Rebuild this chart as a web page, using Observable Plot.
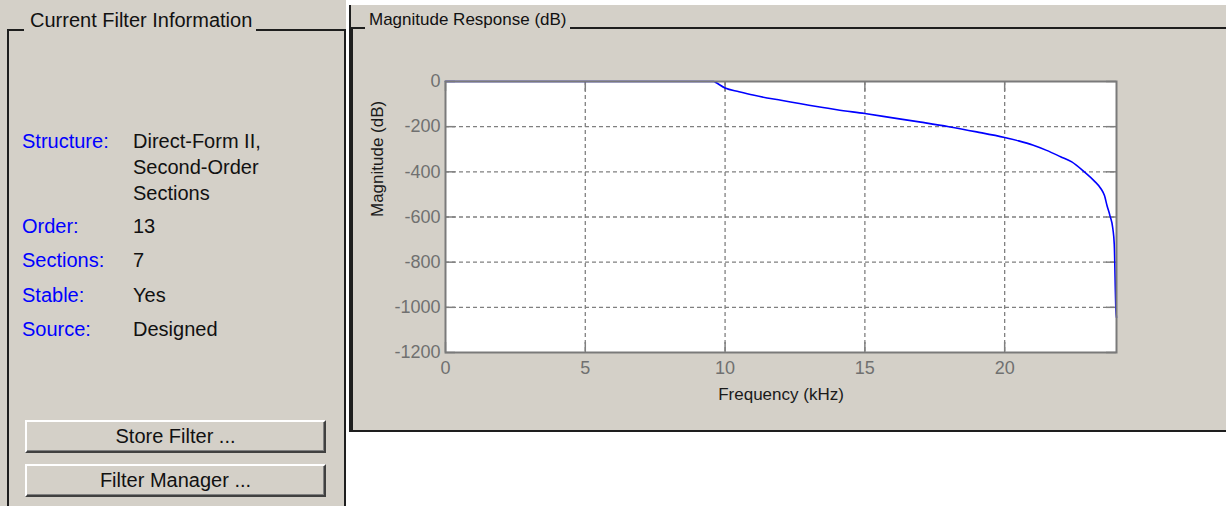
<!DOCTYPE html>
<html>
<head>
<meta charset="utf-8">
<script src="https://cdn.jsdelivr.net/npm/d3@7"></script>
<script src="https://cdn.jsdelivr.net/npm/@observablehq/plot@0.6"></script>
<style>
  html, body { margin: 0; padding: 0; background: #ffffff; }
  body { position: relative; width: 1226px; height: 506px; overflow: hidden;
         font-family: "Liberation Sans", Arial, sans-serif; }
  .abs { position: absolute; }
  #leftPanel { left: 0; top: 0; width: 346px; height: 506px; background: #d4d0c8; }
  #leftBox { left: 7px; top: 29px; width: 339px; height: 500px; box-sizing: border-box;
             border-top: 2px solid #1e1e1e; border-left: 2px solid #1e1e1e; border-right: 2px solid #1e1e1e; }
  #leftTitle { left: 24px; top: 7px; padding: 0 4px 0 6px; background: #d4d0c8; font-size: 20px;
               line-height: 26px; color: #111; white-space: nowrap; }
  .lab { font-size: 20px; line-height: 26px; white-space: nowrap; }
  .key { color: #0000ff; left: 22px; }
  .val { color: #111; left: 133px; }
  .btn { left: 25px; width: 301px; height: 33px; box-sizing: border-box; background: #d4d0c8;
         border-top: 2px solid #ffffff; border-left: 2px solid #ffffff;
         border-right: 2px solid #404040; border-bottom: 2px solid #404040;
         box-shadow: inset -1px -1px 0 #808080;
         font-size: 20px; line-height: 29px; text-align: center; color: #111; }
  #rightPanel { left: 349px; top: 5px; width: 877px; height: 427px; background: #d4d0c8; box-sizing: border-box;
                border-left: 2px solid #1e1e1e; border-bottom: 2px solid #1e1e1e; }
  #rightBox { left: 351px; top: 27px; width: 880px; height: 404px; box-sizing: border-box;
              border-top: 2px solid #1e1e1e; border-left: 2px solid #1e1e1e; }
  #rightTitle { left: 365px; top: 8px; padding: 0 3px 0 4px; background: #d4d0c8; font-size: 17px;
                line-height: 24px; color: #111; white-space: nowrap; }
  #chart { left: 355px; top: 40px; }
</style>
</head>
<body>
<div id="leftPanel" class="abs"></div>
<div id="leftBox" class="abs"></div>
<div id="leftTitle" class="abs">Current Filter Information</div>

<div class="abs lab key" style="top:128px">Structure:</div>
<div class="abs lab val" style="top:128px">Direct-Form II,<br>Second-Order<br>Sections</div>
<div class="abs lab key" style="top:213px">Order:</div>
<div class="abs lab val" style="top:213px">13</div>
<div class="abs lab key" style="top:247px">Sections:</div>
<div class="abs lab val" style="top:247px">7</div>
<div class="abs lab key" style="top:282px">Stable:</div>
<div class="abs lab val" style="top:282px">Yes</div>
<div class="abs lab key" style="top:316px">Source:</div>
<div class="abs lab val" style="top:316px">Designed</div>

<div class="abs btn" style="top:420px">Store Filter ...</div>
<div class="abs btn" style="top:464px">Filter Manager ...</div>

<div id="rightPanel" class="abs"></div>
<div id="rightBox" class="abs"></div>
<div id="rightTitle" class="abs">Magnitude Response (dB)</div>
<div id="chart" class="abs"></div>

<script>
// Frequency (kHz) and magnitude (dB)
const freqKHz = [0, 9.6, 9.65, 10, 10.5, 11, 11.5, 12, 12.5, 13, 13.5, 14, 15, 16, 17, 18, 19, 20,
                 20.5, 21, 21.5, 22, 22.4, 22.83, 23.2, 23.45, 23.57, 23.66, 23.77, 23.87, 23.92, 23.98, 24];
const magDB   = [0, 0, -3, -29, -45, -60, -73, -83, -94, -105, -115, -125, -142, -161, -180, -200, -223, -248,
                 -263, -281, -305, -333, -356, -398, -440, -476, -505, -549, -596, -652, -721, -1015, -1045];
const xTicks = [0, 5, 10, 15, 20];
const yTicks = [0, -200, -400, -600, -800, -1000, -1200];
const xLabel = "Frequency (kHz)";
const yLabel = "Magnitude (dB)";

const data = freqKHz.map((f, i) => ({f, m: magDB[i]}));

const W = 860, H = 380;
const mL = 90, mT = 41, mR = 99, mB = 68;
const innerW = W - mL - mR, innerH = H - mT - mB;
const tickLen = 10;
const gridStyle = {stroke: "#808080", strokeOpacity: 1, strokeWidth: 1.3, strokeDasharray: "4,3"};

const chart = Plot.plot({
  width: W, height: H,
  marginLeft: mL, marginTop: mT, marginRight: mR, marginBottom: mB,
  style: {background: "transparent", fontFamily: "'Liberation Sans', Arial, sans-serif", overflow: "visible"},
  x: {domain: [0, 24]},
  y: {domain: [-1200, 0]},
  marks: [
    Plot.frame({fill: "white", stroke: null}),
    Plot.gridX(xTicks.filter(d => d > 0), gridStyle),
    Plot.gridY(yTicks.filter(d => d > -1200 && d < 0), gridStyle),
    Plot.ruleX(xTicks, {x: d => d, stroke: "#808080", strokeWidth: 1.5, insetTop: innerH - tickLen}),
    Plot.ruleX(xTicks, {x: d => d, stroke: "#808080", strokeWidth: 1.5, insetBottom: innerH - tickLen}),
    Plot.ruleY(yTicks, {y: d => d, stroke: "#808080", strokeWidth: 1.5, insetRight: innerW - tickLen}),
    Plot.ruleY(yTicks, {y: d => d, stroke: "#808080", strokeWidth: 1.5, insetLeft: innerW - tickLen}),
    Plot.line(data, {x: "f", y: "m", stroke: "#0000ff", strokeWidth: 1.6, curve: "monotone-x"}),
    Plot.frame({stroke: "#7a7a7a", strokeWidth: 2}),
    Plot.axisX(xTicks, {tickSize: 0, tickPadding: 9, fontSize: 18, fill: "#707070", label: null, tickFormat: d => String(d)}),
    Plot.axisY(yTicks, {tickSize: 0, tickPadding: 5, fontSize: 18, fill: "#707070", label: null, tickFormat: d => String(d)}),
    Plot.text([xLabel], {text: d => d, frameAnchor: "bottom", dy: 42, lineAnchor: "middle", fontSize: 17, fill: "#1a1a1a"}),
    Plot.text([yLabel], {text: d => d, frameAnchor: "left", dx: -68, rotate: -90, lineAnchor: "middle", fontSize: 17, fill: "#1a1a1a"})
  ]
});
document.getElementById("chart").appendChild(chart);
</script>
</body>
</html>
